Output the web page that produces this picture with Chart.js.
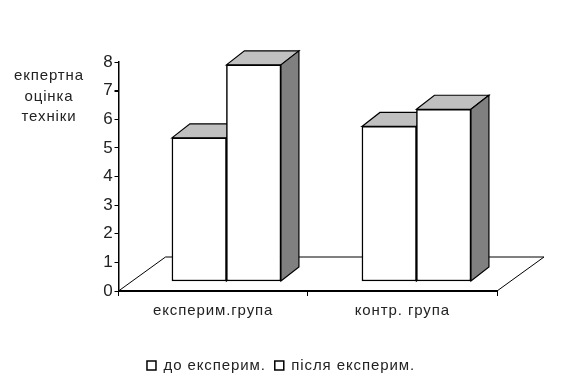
<!DOCTYPE html>
<html>
<head>
<meta charset="utf-8">
<script src="https://cdn.jsdelivr.net/npm/chart.js@4"></script>
<style>
    html, body { margin: 0; padding: 0; background: #fff; }
    canvas { display: block; }
</style>
</head>
<body>
<canvas id="grafiek" width="562" height="383"></canvas>
<script>
// Categories, series values and axis text
const categories = ["експерим.група", "контр. група"];
const seriesNames = ["до експерим.", "після експерим."];
const doValues = [5.0, 5.4];
const pislyaValues = [7.55, 6.0];
const yTicks = [0, 1, 2, 3, 4, 5, 6, 7, 8];
const yTitle = ["екпертна", "оцінка", "техніки"];

const fontName = '"Liberation Sans", Arial, sans-serif';
const textColor = "#222";
const letterSpacing = "0.9px";

// Depth of the fake 3D look, in pixels
const barDepth = { x: 18, y: -14 };
const floorDepth = { x: 47, y: -34 };

// Draws the floor and the top/right faces behind the bars
const driedPlugin = {
    id: "dried",
    beforeUpdate(chart) {
        chart.ctx.letterSpacing = letterSpacing;
    },
    beforeDraw(chart) {
        chart.ctx.letterSpacing = letterSpacing;
    },
    beforeDatasetsDraw(chart) {
        const c = chart.ctx;
        const a = chart.chartArea;
        c.save();
        c.strokeStyle = "#000";
        c.lineWidth = 1;
        c.beginPath();
        c.moveTo(a.left, a.bottom);
        c.lineTo(a.left + floorDepth.x, a.bottom + floorDepth.y);
        c.lineTo(a.right + floorDepth.x, a.bottom + floorDepth.y);
        c.lineTo(a.right, a.bottom);
        c.stroke();

        chart.data.datasets.forEach((ds, i) => {
            chart.getDatasetMeta(i).data.forEach(bar => {
                const l = bar.x - bar.width / 2;
                const r = bar.x + bar.width / 2;
                // bovenvlak
                c.fillStyle = "#c0c0c0";
                c.lineWidth = 1.2;
                c.beginPath();
                c.moveTo(l, bar.y);
                c.lineTo(l + barDepth.x, bar.y + barDepth.y);
                c.lineTo(r + barDepth.x, bar.y + barDepth.y);
                c.lineTo(r, bar.y);
                c.closePath();
                c.fill();
                c.stroke();
                // zijvlak
                c.fillStyle = "#808080";
                c.beginPath();
                c.moveTo(r, bar.y);
                c.lineTo(r + barDepth.x, bar.y + barDepth.y);
                c.lineTo(r + barDepth.x, bar.base + barDepth.y);
                c.lineTo(r, bar.base);
                c.closePath();
                c.fill();
                c.stroke();
            });
        });
        c.restore();
    },
    afterDraw(chart) {
        // Titel van de y-as staat horizontaal links
        const c = chart.ctx;
        c.save();
        c.font = "15px " + fontName;
        c.fillStyle = textColor;
        c.textAlign = "center";
        c.textBaseline = "middle";
        yTitle.forEach((regel, i) => c.fillText(regel, 49, 76 + i * 20.5));
        c.restore();
    }
};

new Chart(document.getElementById("grafiek"), {
    type: "bar",
    data: {
        labels: categories,
        datasets: [doValues, pislyaValues].map((values, i) => ({
            label: seriesNames[i],
            data: values.map((v, idx) => ({ x: idx, y: v })),
            xAxisID: "xBars",
            yAxisID: "yBars",
            backgroundColor: "#fff",
            borderColor: "#000",
            borderWidth: 1.5,
            borderSkipped: false,
            barThickness: 54.5
        }))
    },
    options: {
        responsive: false,
        animation: false,
        layout: { padding: { top: 62, right: 0, left: 0, bottom: 0 } },
        plugins: {
            tooltip: { enabled: false },
            legend: {
                position: "bottom",
                labels: {
                    boxWidth: 9,
                    boxHeight: 9,
                    padding: 9,
                    color: textColor,
                    font: { family: fontName, size: 15 }
                }
            }
        },
        scales: {
            x: {
                type: "category",
                offset: true,
                border: { color: "#000", width: 2 },
                grid: { offset: true, drawOnChartArea: false, color: "#000", tickLength: 5 },
                ticks: { color: textColor, padding: 6, maxRotation: 0, font: { family: fontName, size: 15 } },
                afterFit(scale) { scale.height = 58; }
            },
            y: {
                type: "linear",
                min: yTicks[0],
                max: yTicks[yTicks.length - 1],
                border: { color: "#000", width: 1.5 },
                grid: {
                    drawOnChartArea: false,
                    color: "#000",
                    tickLength: 4,
                    lineWidth: ctx => (ctx.tick && ctx.tick.value === 7 ? 2 : 1)
                },
                ticks: { stepSize: 1, color: textColor, padding: 1, font: { family: fontName, size: 17 } },
                afterFit(scale) { scale.width = 118.5; }
            },
            // Empty axis on the right keeps the legend centred on the whole page
            yRuimte: {
                type: "linear",
                axis: "y",
                position: "right",
                border: { display: false },
                grid: { display: false },
                ticks: { display: false },
                afterFit(scale) { scale.width = 65; }
            },
            // Hidden scales: the bars sit a little into the depth of the floor
            xBars: {
                type: "linear",
                axis: "x",
                display: false,
                offset: false,
                min: -0.568,
                max: 1.424,
                grid: { offset: false }
            },
            yBars: {
                type: "linear",
                axis: "y",
                display: false,
                min: -0.35,
                max: 7.65
            }
        }
    },
    plugins: [driedPlugin]
});
</script>
</body>
</html>
